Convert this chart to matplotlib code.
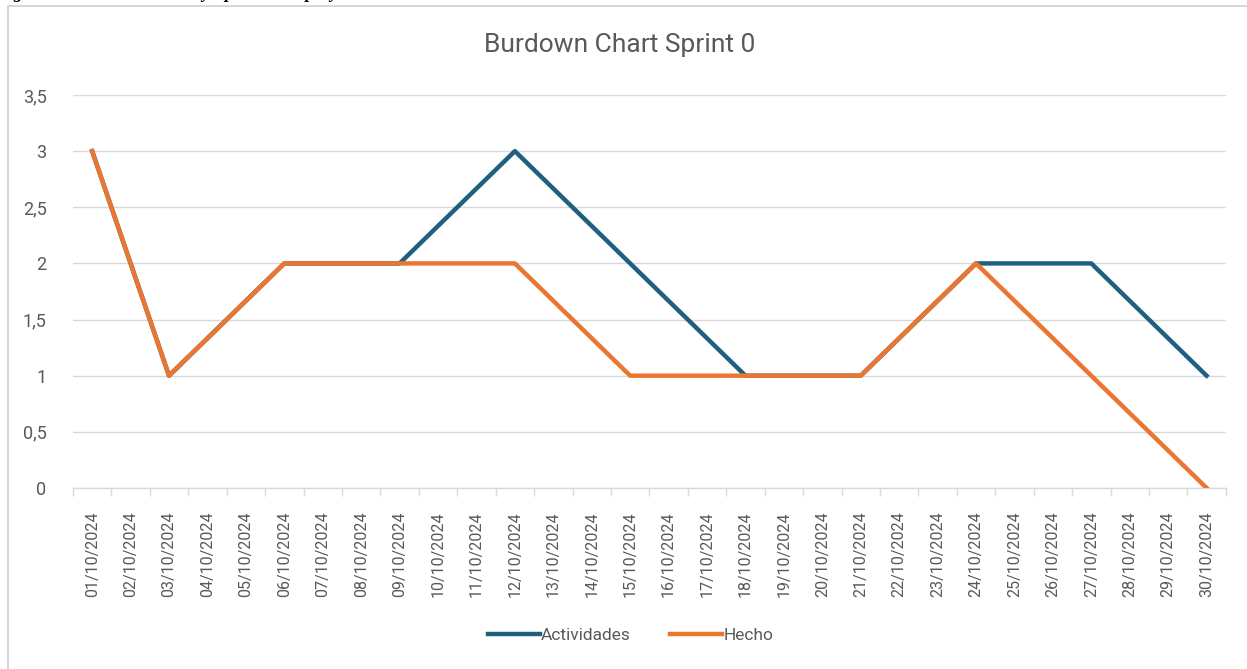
import matplotlib.pyplot as plt
from matplotlib.patches import Rectangle
from matplotlib.ticker import FixedLocator

plt.rcParams['font.family'] = ['Roboto', 'DejaVu Sans']

fechas = ["%02d/10/2024" % d for d in range(1, 31)]

# days where the series have a value
puntos = ["01/10/2024", "03/10/2024", "06/10/2024", "09/10/2024", "12/10/2024",
          "15/10/2024", "18/10/2024", "21/10/2024", "24/10/2024", "27/10/2024",
          "30/10/2024"]
actividades = [3, 1, 2, 2, 3, 2, 1, 1, 2, 2, 1]
hecho = [3, 1, 2, 2, 2, 1, 1, 1, 2, 1, 0]

y_ticks = [0, 0.5, 1, 1.5, 2, 2.5, 3, 3.5]
y_labels = ["0", "0,5", "1", "1,5", "2", "2,5", "3", "3,5"]

gris = "#595959"
x = [fechas.index(p) for p in puntos]

fig = plt.figure(figsize=(12.47, 6.69), dpi=100)
ax = fig.add_axes([0.0585, 0.2706, 0.9245, 0.5874])

# outer chart border (light gray)
fig.patches.append(Rectangle((8 / 1247, -0.05), 1.2, 1 - 6 / 669 + 0.05,
                             transform=fig.transFigure, fill=False,
                             edgecolor="#d0d0d0", linewidth=1.2))

# caption cut at the top of the image
fig.text(-0.002, 1.0 + 2 / 669, "Figura 9  Burndown Chart y Sprint 0 del proyecto",
         family="Liberation Serif", style="italic", weight="bold",
         fontsize=13, va="baseline", ha="left")

ax.plot(x, actividades, color="#215F80", linewidth=3.2, label="Actividades", zorder=3)
ax.plot(x, hecho, color="#EB7632", linewidth=3.2, label="Hecho", zorder=4)

ax.set_xlim(-0.5, len(fechas) - 0.5)
ax.set_ylim(0, 3.5)
ax.set_yticks(y_ticks)
ax.set_yticklabels(y_labels)
ax.set_xticks(range(len(fechas)))
ax.set_xticklabels(fechas, rotation=90)
ax.xaxis.set_minor_locator(FixedLocator([i - 0.5 for i in range(len(fechas) + 1)]))

ax.grid(axis="y", color="#d9d9d9", linewidth=1)
ax.set_axisbelow(True)
for s in ["top", "right", "left"]:
    ax.spines[s].set_visible(False)
ax.spines["bottom"].set_color("#d9d9d9")
ax.spines["bottom"].set_linewidth(1)

ax.tick_params(axis="x", which="major", length=0, pad=17, labelsize=11.5,
               labelcolor=gris)
ax.tick_params(axis="x", which="minor", length=6, color="#d9d9d9", width=1)
ax.tick_params(axis="y", length=0, pad=19, labelsize=13, labelcolor=gris)

fig.text(0.497, 1 - 45 / 669, "Burdown Chart Sprint 0", fontsize=19, color=gris,
         ha="center", va="center")

leg = ax.legend(loc="center", bbox_to_anchor=(0.4835, -0.375), ncol=2,
                frameon=False, handlelength=3.0, handletextpad=0.05,
                columnspacing=2.3, fontsize=12.5)
for t in leg.get_texts():
    t.set_color(gris)

fig.savefig("out.png", dpi=100)
